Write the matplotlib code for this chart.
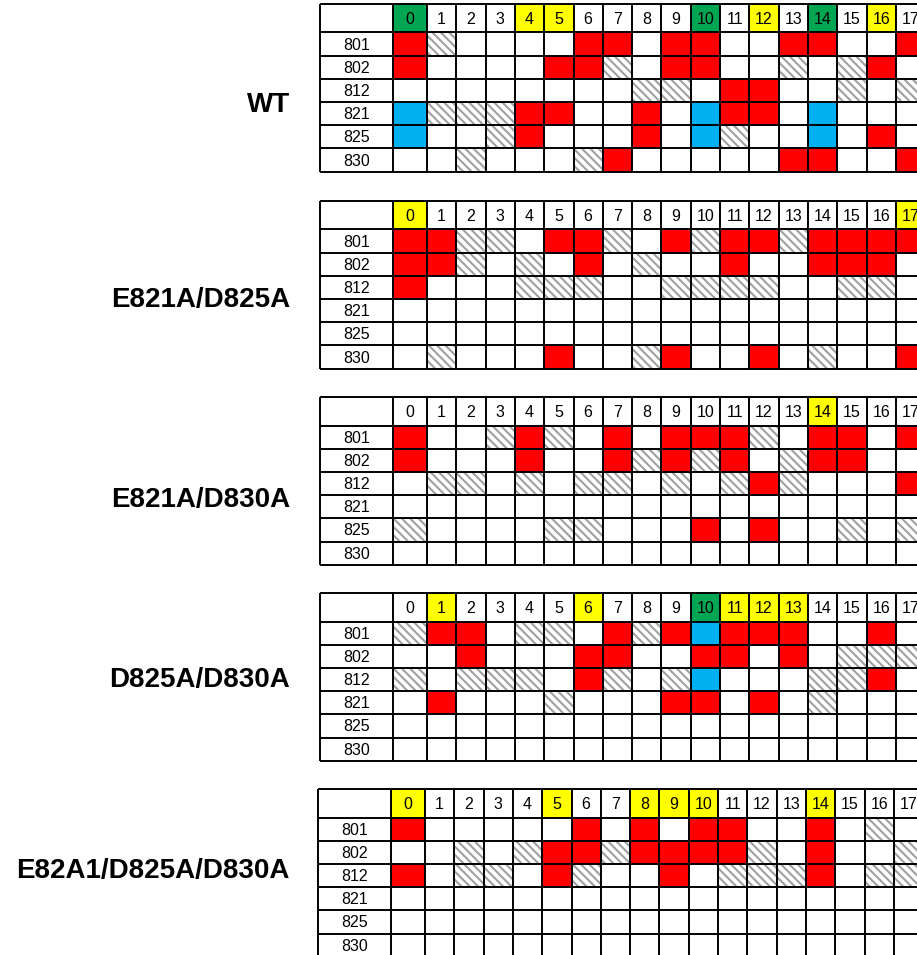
import numpy as np
import matplotlib.pyplot as plt
from matplotlib.patches import Rectangle

plt.rcParams['font.family'] = ['Liberation Sans', 'DejaVu Sans']
plt.rcParams['hatch.linewidth'] = 1.5

mutants = ['WT', 'E821A/D825A', 'E821A/D830A', 'D825A/D830A', 'E82A1/D825A/D830A']
positions = ['801', '802', '812', '821', '825', '830']
timepoints = list(range(18))

# header colour per time point: g = green, y = yellow, . = none
wt_head = 'g...yy....g.y.g.y.'
m1_head = 'y................y'
m2_head = '..............y...'
m3_head = '.y....y...gyyy....'
m4_head = 'y....y..yyy...y...'

# cells: R = red, H = hatched, B = blue, . = empty
wt_cells = ['RH....RR.RR..RR..R',
            'R....RRH.RR..H.HR.',
            '........HH.RR..H.H',
            'BHHHRR..R.BRR.B...',
            'B..HR...R.BH..B.R.',
            '..H...HR.....RR..R']
m1_cells = ['RRHH.RRH.RHRRHRRRR',
            'RRH.H.R.H..R..RRR.',
            'R...HHH..HHHH..HH.',
            '..................',
            '..................',
            '.H...R..HR..R.H..R']
m2_cells = ['R..HRH.R.RRRH.RR.R',
            'R...R..RHRHR.HRR..',
            '.HH.H.HH.H.HRH...R',
            '..................',
            'H....HH...R.R..H.H',
            '..................']
m3_cells = ['HRR.HH.RHRBRRR..R.',
            '..R...RR..RR.R.HHH',
            'H.HHH.RH.HB...HHR.',
            '.R...H...RR.R.H...',
            '..................',
            '..................']
m4_cells = ['R.....R.R.RR..R.H.',
            '..H.HRRHRRRRH.R..H',
            'R.HH.RH..R.HHHR.HH',
            '..................',
            '..................',
            '..................']

heads = [wt_head, m1_head, m2_head, m3_head, m4_head]
cells = [wt_cells, m1_cells, m2_cells, m3_cells, m4_cells]

colors = {'R': '#ff0000', 'B': '#00b0f0', 'g': '#00a651', 'y': '#ffff00'}

# layout in pixels
panel_top = [4, 201, 397, 593, 789]
panel_left = [320, 320, 320, 320, 318]
label_y = [105, 300, 500, 680, 871]
label_w, first_w, col_w = 73, 34, 29.3
head_h, row_h = 28.5, 23.2

fig = plt.figure(figsize=(9.17, 9.55), dpi=100)
ax = fig.add_axes([0, 0, 1, 1])
ax.set_xlim(0, 917)
ax.set_ylim(955, 0)
ax.axis('off')

for p in range(len(mutants)):
    left, top = panel_left[p], panel_top[p]
    xe = np.concatenate([[left, left + label_w],
                         left + label_w + first_w + col_w * np.arange(len(timepoints))])
    ye = np.concatenate([[top], top + head_h + row_h * np.arange(len(positions) + 1)])

    # header row
    for j, t in enumerate(timepoints):
        c = heads[p][j]
        if c != '.':
            ax.add_patch(Rectangle((xe[j + 1], ye[0]), xe[j + 2] - xe[j + 1], ye[1] - ye[0],
                                   facecolor=colors[c], lw=0))
        ax.text((xe[j + 1] + xe[j + 2]) / 2, (ye[0] + ye[1]) / 2 + 1, str(t),
                ha='center', va='center', fontsize=11.5)

    # body
    for i, pos in enumerate(positions):
        ax.text((xe[0] + xe[1]) / 2, (ye[i + 1] + ye[i + 2]) / 2 + 1, pos,
                ha='center', va='center', fontsize=11.5)
        for j in range(len(timepoints)):
            c = cells[p][i][j]
            x0, w = xe[j + 1], xe[j + 2] - xe[j + 1]
            y0, h = ye[i + 1], ye[i + 2] - ye[i + 1]
            if c == 'H':
                ax.add_patch(Rectangle((x0, y0), w, h, facecolor='white',
                                       edgecolor='#a0a0a0', hatch='\\\\\\\\', lw=0))
            elif c != '.':
                ax.add_patch(Rectangle((x0, y0), w, h, facecolor=colors[c], lw=0))

    ax.vlines(xe, ye[0], ye[-1], color='black', lw=1.4)
    ax.hlines(ye, xe[0], xe[-1], color='black', lw=1.4)

    ax.text(290, label_y[p], mutants[p], ha='right', va='center',
            fontsize=20, fontweight='bold')

fig.savefig('out.png', dpi=100)
